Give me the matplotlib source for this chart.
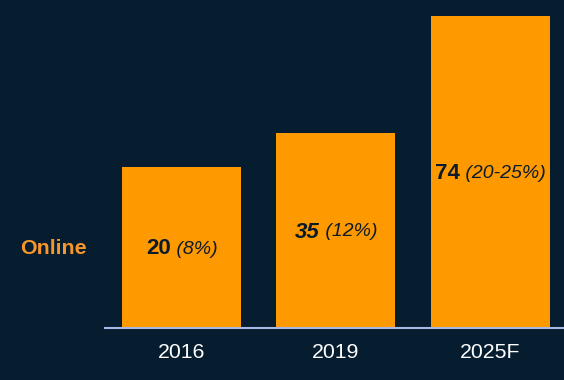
import matplotlib
matplotlib.use("Agg")
import matplotlib.pyplot as plt

# data
years = ["2016", "2019", "2025F"]
values = [20, 35, 74]
shares = ["8%", "12%", "20-25%"]
bar_height = [161, 195, 312]   # drawn height of each bar (not to scale with values)
num_italic = [False, True, False]

bg = "#061D2F"
orange = "#FF9900"
dark = "#0B1B2B"

plt.rcParams['font.family'] = ['Liberation Sans', 'DejaVu Sans']

fig = plt.figure(figsize=(5.64, 3.80), dpi=100, facecolor=bg)
ax = fig.add_axes([105/564, 1 - 328/380, 459/564, 312/380])
ax.set_facecolor(bg)

x = list(range(len(years)))
ax.bar(x, bar_height, width=0.77, color=orange, edgecolor="none", zorder=2)
ax.set_xlim(-0.495, 2.476)
ax.set_ylim(0, max(bar_height))

for s in ["top", "right", "left"]:
    ax.spines[s].set_visible(False)
ax.spines["bottom"].set_color("#A9B7E6")
ax.spines["bottom"].set_linewidth(1.5)
ax.spines["bottom"].set_zorder(3)
ax.set_yticks([])
ax.set_xticks(x)
ax.set_xticklabels(years, color="white", fontsize=15.3)
ax.tick_params(axis="x", length=0, pad=10.5)

# labels inside bars: bold number + italic share
fig.canvas.draw()
renderer = fig.canvas.get_renderer()
for i in x:
    yc = bar_height[i] / 2 - 1.5
    t1 = ax.text(i, yc, str(values[i]), ha="right", va="center", fontsize=16,
                 fontweight="bold", style="italic" if num_italic[i] else "normal",
                 color=dark, zorder=4)
    t2 = ax.text(i, yc, " (" + shares[i] + ")", ha="left", va="center", fontsize=14,
                 style="italic", color=dark, zorder=4)
    w1 = t1.get_window_extent(renderer).width
    w2 = t2.get_window_extent(renderer).width
    shift = (w1 - w2) / 2 / (ax.get_window_extent(renderer).width / (2.476 + 0.495))
    t1.set_x(i + shift)
    t2.set_x(i + shift)

fig.text(20/564, 1 - 248/380, "Online", color="#F7962A", fontsize=15.4,
         fontweight="bold", ha="left", va="center")

fig.savefig("out.png", dpi=100, facecolor=bg)
